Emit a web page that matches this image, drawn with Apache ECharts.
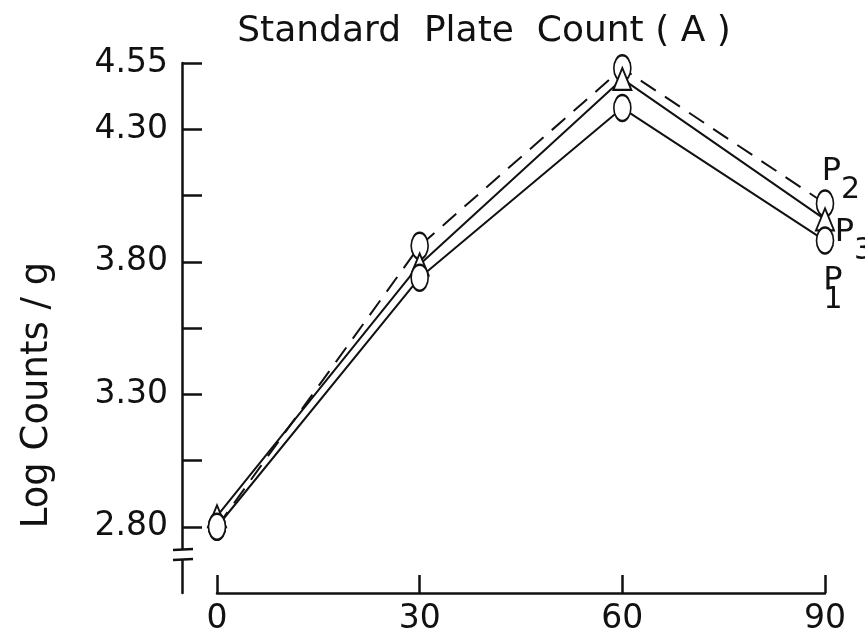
<!DOCTYPE html>
<html lang="en">
<head>
    <meta charset="UTF-8">
    <title>Standard Plate Count (A)</title>
    <style>
        html, body {
            margin: 0;
            padding: 0;
            background: white;
        }

        #fig {
            height: 634px;
            width: 865px;
        }
    </style>
    <script src="https://cdn.jsdelivr.net/npm/echarts@6/dist/echarts.min.js"></script>
</head>
<body>
    <div id="fig"></div>
    <script>
        // 数据
        const xValues = [0, 30, 60, 90];
        const p1Values = [2.80, 3.74, 4.38, 3.88];
        const p2Values = [2.80, 3.86, 4.53, 4.02];
        const p3Values = [2.84, 3.79, 4.49, 3.96];
        const yTickValues = [2.80, 3.05, 3.30, 3.55, 3.80, 4.05, 4.30, 4.55];
        const yLabelValues = [2.80, 3.30, 3.80, 4.30, 4.55];

        const ink = '#111';
        const font = 'DejaVu Sans';

        function makeData(values, label) {
            let data = [];
            for (let i = 0; i < xValues.length; i++) {
                data.push([xValues[i], values[i]]);
            }
            // 最后一点加标签 P1/P2/P3
            data[data.length - 1] = {value: data[data.length - 1], label: label};
            return data;
        }

        const rich = {
            p: {fontSize: 32, fontFamily: font, color: ink, lineHeight: 32, verticalAlign: 'top'},
            s: {fontSize: 30, fontFamily: font, color: ink, lineHeight: 30, verticalAlign: 'top', padding: [20, 0, 0, 0]},
            p1: {fontSize: 32, fontFamily: font, color: ink, lineHeight: 20},
            s1: {fontSize: 30, fontFamily: font, color: ink, lineHeight: 20}
        };

        let fig = echarts.init(document.getElementById('fig'), null, {renderer: 'canvas'});

        let option = {
            animation: false,
            backgroundColor: '#fff',
            title: {
                text: 'Standard  Plate  Count ( A )',
                left: 484,
                top: 14,
                textAlign: 'center',
                padding: 0,
                textStyle: {fontFamily: font, fontSize: 36, fontWeight: 'normal', color: ink}
            },
            grid: {left: 217, right: 40, top: 63, bottom: 41, outerBoundsMode: 'none', containLabel: false},
            xAxis: {
                type: 'value',
                min: 0,
                max: 90,
                interval: 30,
                splitLine: {show: false},
                axisLine: {lineStyle: {color: ink, width: 2.5}},
                axisTick: {inside: true, length: 18, lineStyle: {color: ink, width: 2.5}},
                axisLabel: {margin: 10, fontFamily: font, fontSize: 33, color: ink}
            },
            yAxis: {
                type: 'value',
                min: 2.55,
                max: 4.55,
                offset: 35,
                splitLine: {show: false},
                axisLine: {show: true, onZero: false, lineStyle: {color: ink, width: 2.5}},
                axisTick: {show: true, inside: true, length: 20, customValues: yTickValues,
                    lineStyle: {color: ink, width: 2.5}},
                axisLabel: {
                    margin: 14,
                    fontFamily: font,
                    fontSize: 33,
                    color: ink,
                    customValues: yLabelValues,
                    formatter: (v) => v.toFixed(2)
                }
            },
            series: [
                {
                    name: 'P2',
                    type: 'line',
                    z: 2,
                    data: makeData(p2Values, {
                        show: true, position: 'inside', offset: [16, -32],
                        formatter: '{p|P}{s|2}', rich: rich
                    }),
                    symbol: 'emptyCircle',
                    symbolSize: [17, 26],
                    lineStyle: {color: ink, width: 2, type: [18, 11]},
                    itemStyle: {color: ink, borderWidth: 2}
                },
                {
                    name: 'P3',
                    type: 'line',
                    z: 3,
                    data: makeData(p3Values, {
                        show: true, position: 'inside', offset: [29, 13],
                        formatter: '{p|P}{s|3}', rich: rich
                    }),
                    symbol: 'emptyTriangle',
                    symbolSize: [18, 22],
                    lineStyle: {color: ink, width: 2},
                    itemStyle: {color: ink, borderWidth: 2}
                },
                {
                    name: 'P1',
                    type: 'line',
                    z: 4,
                    data: makeData(p1Values, {
                        show: true, position: 'inside', offset: [8, 50],
                        formatter: '{p1|P}\n{s1|1}', rich: rich
                    }),
                    symbol: 'emptyCircle',
                    symbolSize: [17, 26],
                    lineStyle: {color: ink, width: 2},
                    itemStyle: {color: ink, borderWidth: 2}
                }
            ],
            graphic: [
                // y 轴名称
                {
                    type: 'text',
                    x: 37,
                    y: 395,
                    rotation: Math.PI / 2,
                    style: {
                        text: 'Log Counts / g',
                        fontFamily: font,
                        fontSize: 37,
                        fill: ink,
                        align: 'center',
                        verticalAlign: 'middle'
                    }
                },
                // 断轴符号
                {
                    type: 'rect',
                    shape: {x: 176, y: 549, width: 12, height: 11},
                    style: {fill: '#fff'},
                    z: 100
                },
                {
                    type: 'line',
                    shape: {x1: 173, y1: 550, x2: 193, y2: 549},
                    style: {stroke: ink, lineWidth: 2.5},
                    z: 101
                },
                {
                    type: 'line',
                    shape: {x1: 173, y1: 560, x2: 193, y2: 559},
                    style: {stroke: ink, lineWidth: 2.5},
                    z: 101
                }
            ]
        };

        fig.setOption(option);
    </script>
</body>
</html>
